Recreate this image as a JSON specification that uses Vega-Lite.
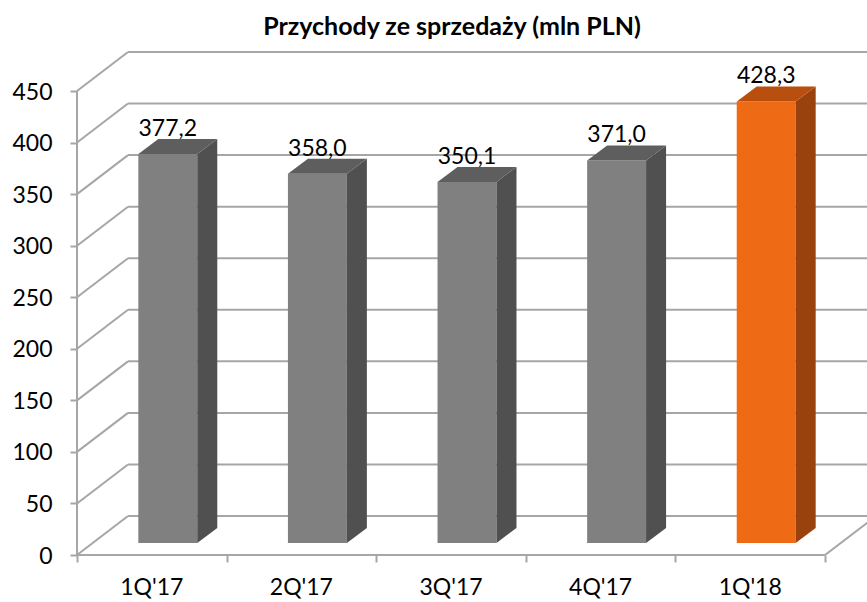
{
  "$schema": "https://vega.github.io/schema/vega-lite/v6.json",
  "autosize": "none",
  "width": 790,
  "height": 503,
  "padding": {"left": 77, "top": 52, "right": 0, "bottom": 47},
  "background": "white",
  "title": {"text": "Przychody ze sprzedaży (mln PLN)", "font": "Lato", "fontSize": 25, "fontWeight": "bold", "color": "#000000", "anchor": "middle", "dx": -20, "offset": 11},
  "config": {
    "view": {"stroke": null},
    "locale": {"number": {"decimal": ",", "thousands": " ", "grouping": [3], "currency": ["", " zł"]}}
  },
  "datasets": {
    "bars": [
      {"q": "1Q'17", "v": 377.2},
      {"q": "2Q'17", "v": 358.0},
      {"q": "3Q'17", "v": 350.1},
      {"q": "4Q'17", "v": 371.0},
      {"q": "1Q'18", "v": 428.3}
    ],
    "ticks": [
      {"t": 0}, {"t": 50}, {"t": 100}, {"t": 150}, {"t": 200},
      {"t": 250}, {"t": 300}, {"t": 350}, {"t": 400}, {"t": 450}
    ]
  },
  "layer": [
    {
      "data": {"name": "ticks"},
      "mark": {"type": "rule", "color": "#A6A6A6", "strokeWidth": 2, "xOffset": 51, "x2Offset": 51, "yOffset": -39, "y2Offset": -39},
      "encoding": {
        "x": {"datum": 0, "type": "quantitative", "scale": {"domain": [0, 5.2807], "nice": false, "zero": false},
          "axis": {"values": [0, 1, 2, 3, 4, 5], "labels": false, "domain": false, "grid": false, "ticks": true, "tickSize": 7, "tickColor": "#A6A6A6", "tickWidth": 2, "title": null}},
        "x2": {"datum": 5.2807},
        "y": {"field": "t", "type": "quantitative", "title": null, "scale": {"domain": [0, 487.83], "nice": false, "zero": false},
          "axis": {"values": [0, 50, 100, 150, 200, 250, 300, 350, 400, 450], "format": "d", "domain": false, "grid": false, "ticks": true, "tickSize": 7, "tickColor": "#A6A6A6", "tickWidth": 2, "labelFont": "Lato", "labelFontSize": 23, "labelColor": "#000000", "labelPadding": 18, "labelOffset": 1, "title": null}},
        "y2": {"field": "t"}
      }
    },
    {
      "data": {"name": "ticks"},
      "mark": {"type": "rule", "color": "#A6A6A6", "strokeWidth": 2, "x2Offset": 51, "y2Offset": -39},
      "encoding": {
        "x": {"datum": 0, "type": "quantitative"},
        "x2": {"datum": 0},
        "y": {"field": "t", "type": "quantitative", "title": null},
        "y2": {"field": "t"}
      }
    },
    {
      "data": {"values": [{}]},
      "mark": {"type": "rule", "color": "#A6A6A6", "strokeWidth": 2, "x2Offset": 51, "y2Offset": -39},
      "encoding": {
        "x": {"datum": 5, "type": "quantitative"},
        "x2": {"datum": 5},
        "y": {"datum": 0, "type": "quantitative"},
        "y2": {"datum": 0}
      }
    },
    {
      "data": {"values": [{}]},
      "mark": {"type": "rule", "color": "#A6A6A6", "strokeWidth": 2},
      "encoding": {
        "x": {"datum": 0, "type": "quantitative"},
        "x2": {"datum": 5},
        "y": {"datum": 0, "type": "quantitative"}
      }
    },
    {
      "data": {"values": [{}]},
      "mark": {"type": "rule", "color": "#A6A6A6", "strokeWidth": 2},
      "encoding": {
        "x": {"datum": 0, "type": "quantitative"},
        "y": {"datum": 0, "type": "quantitative"},
        "y2": {"datum": 450}
      }
    },
    {
      "data": {"name": "bars"},
      "transform": [
        {"window": [{"op": "row_number", "as": "i"}]},
        {"calculate": "datum.i - 1 + 0.303", "as": "x0"},
        {"calculate": "datum.i - 0.303", "as": "x1"}
      ],
      "mark": {"type": "bar", "xOffset": 16, "x2Offset": 16, "yOffset": -12, "y2Offset": -12},
      "encoding": {
        "x": {"field": "x0", "type": "quantitative", "title": null},
        "x2": {"field": "x1"},
        "y": {"field": "v", "type": "quantitative", "title": null},
        "y2": {"datum": 0},
        "color": {"condition": {"test": "datum.q === \"1Q'18\"", "value": "#EE6A14"}, "value": "#808080"}
      }
    },
    {
      "data": {"name": "bars"},
      "transform": [
        {"window": [{"op": "row_number", "as": "i"}]},
        {"calculate": "datum.i - 0.303", "as": "a"},
        {"calculate": "datum.i - 0.303 + 0.1337", "as": "b"},
        {"fold": ["a", "b"], "as": ["k", "sx"]},
        {"calculate": "datum.k === 'b' ? datum.v + 14.55 : datum.v", "as": "sy"},
        {"calculate": "datum.k === 'b' ? 14.55 : 0", "as": "sy0"}
      ],
      "mark": {"type": "area", "orient": "vertical", "xOffset": 16, "yOffset": -12, "y2Offset": -12},
      "encoding": {
        "x": {"field": "sx", "type": "quantitative", "title": null},
        "y": {"field": "sy", "type": "quantitative", "title": null},
        "y2": {"field": "sy0"},
        "detail": {"field": "q"},
        "color": {"condition": {"test": "datum.q === \"1Q'18\"", "value": "#9A420E"}, "value": "#505050"}
      }
    },
    {
      "data": {"name": "bars"},
      "transform": [
        {"window": [{"op": "row_number", "as": "i"}]},
        {"calculate": "datum.v", "as": "a"},
        {"calculate": "datum.v + 14.55", "as": "b"},
        {"fold": ["a", "b"], "as": ["k", "ty"]},
        {"calculate": "datum.k === 'b' ? datum.i - 1 + 0.303 + 0.1337 : datum.i - 1 + 0.303", "as": "tx0"},
        {"calculate": "datum.k === 'b' ? datum.i - 0.303 + 0.1337 : datum.i - 0.303", "as": "tx1"}
      ],
      "mark": {"type": "area", "orient": "horizontal", "xOffset": 16, "x2Offset": 16, "yOffset": -12},
      "encoding": {
        "y": {"field": "ty", "type": "quantitative", "title": null},
        "x": {"field": "tx0", "type": "quantitative", "title": null},
        "x2": {"field": "tx1"},
        "detail": {"field": "q"},
        "color": {"condition": {"test": "datum.q === \"1Q'18\"", "value": "#B84F0F"}, "value": "#5E5E5E"}
      }
    },
    {
      "data": {"name": "bars"},
      "transform": [
        {"window": [{"op": "row_number", "as": "i"}]},
        {"calculate": "datum.i - 0.5", "as": "xc"}
      ],
      "mark": {"type": "text", "font": "Lato", "fontSize": 23, "color": "#000000", "baseline": "middle", "align": "center", "dx": 16, "dy": -37},
      "encoding": {
        "x": {"field": "xc", "type": "quantitative", "title": null},
        "y": {"field": "v", "type": "quantitative", "title": null},
        "text": {"field": "v", "type": "quantitative", "format": ".1f"}
      }
    },
    {
      "data": {"name": "bars"},
      "transform": [
        {"window": [{"op": "row_number", "as": "i"}]},
        {"calculate": "datum.i - 0.5", "as": "xc"}
      ],
      "mark": {"type": "text", "font": "Lato", "fontSize": 23, "color": "#000000", "baseline": "middle", "align": "center", "dy": 33},
      "encoding": {
        "x": {"field": "xc", "type": "quantitative", "title": null},
        "y": {"datum": 0, "type": "quantitative"},
        "text": {"field": "q"}
      }
    }
  ]
}
